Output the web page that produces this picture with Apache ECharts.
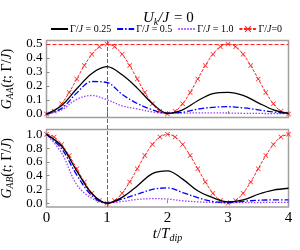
<!DOCTYPE html>
<html><head><meta charset="utf-8">
<script src="https://cdn.jsdelivr.net/npm/echarts@6/dist/echarts.min.js"></script>
<style>html,body{margin:0;padding:0;background:#fff}#c{width:300px;height:250px}</style>
</head><body><div id="c"></div>
<script>
var tCoarse = [0,0.25,0.5,0.75,1,1.25,1.5,1.75,2,2.25,2.5,2.75,3,3.25,3.5,3.75,4];
var tFine = [0,0.125,0.25,0.375,0.5,0.625,0.75,0.875,1,1.125,1.25,1.375,1.5,1.625,1.75,1.875,2,2.125,2.25,2.375,2.5,2.625,2.75,2.875,3,3.125,3.25,3.375,3.5,3.625,3.75,3.875,4];
var seriesNames = ['Γ/J = 0.25','Γ/J = 0.5','Γ/J = 1.0','Γ/J=0'];
// top panel G_AA
var gaaG025 = [0,0.06,0.18,0.29,0.338,0.28,0.185,0.075,0.005,0.03,0.095,0.145,0.155,0.133,0.08,0.03,0.005];
var gaaG05  = [0,0.04,0.15,0.232,0.225,0.14,0.075,0.03,0.006,0.013,0.035,0.048,0.052,0.044,0.03,0.014,0.005];
var gaaG1   = [0,0.03,0.105,0.132,0.102,0.058,0.036,0.015,0.006,0.006,0.008,0.008,0.007,0.005,0.004,0.003,0.002];
var gaaG0   = [0,0.019,0.073,0.154,0.25,0.346,0.427,0.481,0.5,0.481,0.427,0.346,0.25,0.154,0.073,0.019,0,0.019,0.073,0.154,0.25,0.346,0.427,0.481,0.5,0.481,0.427,0.346,0.25,0.154,0.073,0.019,0];
// bottom panel G_AB
var gabG025 = [1,0.83,0.47,0.14,0.0,0.085,0.25,0.43,0.47,0.35,0.18,0.08,0.02,0.048,0.13,0.19,0.217];
var gabG05  = [1,0.79,0.41,0.11,0.0,0.06,0.13,0.2,0.222,0.155,0.08,0.025,0.008,0.028,0.042,0.048,0.048];
var gabG1   = [1,0.73,0.27,0.07,0.005,0.025,0.055,0.066,0.06,0.035,0.02,0.01,0.006,0.008,0.01,0.012,0.012];
var gabG0   = [1,0.962,0.854,0.691,0.5,0.309,0.146,0.038,0,0.038,0.146,0.309,0.5,0.691,0.854,0.962,1,0.962,0.854,0.691,0.5,0.309,0.146,0.038,0,0.038,0.146,0.309,0.5,0.691,0.854,0.962,1];
var xTicks = [0,1,2,3,4];
var topTicks = [0,0.1,0.2,0.3,0.4,0.5];
var botTicks = [0,0.2,0.4,0.6,0.8,1.0];
var refLineY = 0.5, refLineX = 1;

var FF = 'Liberation Serif';
var colors = ['#000000','#0000ff','#a040ff','#ff2020'];
var styles = [
  {type:'solid', width:1.3},
  {type:[6,2,1.5,2], width:1.3},
  {type:[1.5,1.5], width:1.3},
  {type:[3,1.5], width:1}
];
var xSym = 'path://M1,0 L5,4 L9,0 L10,1 L6,5 L10,9 L9,10 L5,6 L1,10 L0,9 L4,5 L0,1 Z';
function pairs(ts, vs){ return ts.map(function(t,i){return [t, vs[i]];}); }
function mk(name, idx, ts, vs, gi){
  var s = {name:name, type:'line', xAxisIndex:gi, yAxisIndex:gi, data:pairs(ts,vs), smooth:0.35,
    lineStyle:{color:colors[idx], type:styles[idx].type, width:styles[idx].width},
    itemStyle:{color:colors[idx]}, animation:false, silent:true, z: 10-idx};
  if (idx===3){ s.symbol = xSym; s.symbolSize = 5; s.showSymbol = true; }
  else { s.symbol = 'none'; s.showSymbol = false; }
  return s;
}
function rich(fs, sfs){
  return {
    i:{fontFamily:FF, fontStyle:'italic', fontWeight:'normal', fontSize:fs, color:'#000', lineHeight:fs+3, verticalAlign:'middle'},
    n:{fontFamily:FF, fontWeight:'normal', fontSize:fs, color:'#000', lineHeight:fs+3, verticalAlign:'middle'},
    sub:{fontFamily:FF, fontStyle:'italic', fontWeight:'normal', fontSize:sfs, color:'#000', lineHeight:sfs, verticalAlign:'bottom'}
  };
}
var gridL = 46.5, gridW = 242;
var tickStyle = {inside:true, length:3, lineStyle:{color:'#888', width:1}};
var legendData = seriesNames.map(function(n, i){
  return i < 3 ? {name:n, itemStyle:{opacity:0}} : {name:n};
});
function yLabel(ticks){
  return {fontFamily:FF, fontSize:13, lineHeight:11, color:'#000', margin:4, interval:0, hideOverlap:false,
    customValues:ticks, showMinLabel:true, showMaxLabel:true, formatter:function(v){return v.toFixed(1);}};
}
var option = {
  backgroundColor:'#fff',
  title:{text:'{i|U}{sub|k}{i|/J} {n|= 0}', left:143, top:9, padding:0,
    textStyle:{fontWeight:'normal', rich:rich(15,10)}},
  legend:{data:legendData, left:50, top:24, itemWidth:17, itemHeight:8, itemGap:5, padding:0,
    formatter:function(n){ var p = n.split('/J'); return '{n|' + p[0] + '/}{i|J}{n|' + p[1] + '}'; },
    textStyle:{fontFamily:FF, fontSize:10, color:'#000', padding:[0,0,0,-3], rich:{
      n:{fontFamily:FF, fontSize:10, color:'#000'}, i:{fontFamily:FF, fontStyle:'italic', fontSize:10, color:'#000'}}}},
  grid:[
    {left:gridL, width:gridW, top:40.5, height:77, show:true, borderColor:'#a0a0a0', borderWidth:1.5, backgroundColor:'transparent', outerBoundsMode:'none', containLabel:false},
    {left:gridL, width:gridW, top:129.5, height:77.5, show:true, borderColor:'#a0a0a0', borderWidth:1.5, backgroundColor:'transparent', outerBoundsMode:'none', containLabel:false},
    {left:gridL, width:gridW, top:40.5, height:166.5, show:false, outerBoundsMode:'none', containLabel:false}
  ],
  xAxis:[
    {gridIndex:0, type:'value', min:0, max:4, interval:1, axisLine:{show:false}, axisTick:tickStyle, axisLabel:{show:false}, splitLine:{show:false}},
    {gridIndex:1, type:'value', min:0, max:4, interval:1, axisLine:{show:false}, axisTick:tickStyle,
      axisLabel:{fontFamily:FF, fontSize:15, color:'#000', margin:4, customValues:xTicks},
      splitLine:{show:false},
      name:'{i|t}{n|/}{i|T}{sub|dip}', nameLocation:'middle', nameGap:17, nameTextStyle:{rich:rich(15,10)}},
    {gridIndex:2, type:'value', min:0, max:4, show:false}
  ],
  yAxis:[
    {gridIndex:0, type:'value', min:-0.025, max:0.525, axisLine:{show:false},
      axisTick:Object.assign({customValues:topTicks}, tickStyle),
      axisLabel:yLabel(topTicks), splitLine:{show:false},
      name:'{i|G}{sub|AA}{n|(}{i|t}{n|; Γ/}{i|J}{n|)}', nameLocation:'middle', nameRotate:90, nameGap:23, nameTextStyle:{rich:rich(14,9.5)}},
    {gridIndex:1, type:'value', min:-0.055, max:1.07, axisLine:{show:false},
      axisTick:Object.assign({customValues:botTicks}, tickStyle),
      axisLabel:yLabel(botTicks), splitLine:{show:false},
      name:'{i|G}{sub|AB}{n|(}{i|t}{n|; Γ/}{i|J}{n|)}', nameLocation:'middle', nameRotate:90, nameGap:23, nameTextStyle:{rich:rich(14,9.5)}},
    {gridIndex:2, type:'value', min:0, max:1, show:false}
  ],
  series:[]
};
var topData = [gaaG025, gaaG05, gaaG1];
var botData = [gabG025, gabG05, gabG1];
for (var k=0;k<3;k++){
  option.series.push(mk(seriesNames[k], k, tCoarse, topData[k], 0));
  option.series.push(mk(seriesNames[k], k, tCoarse, botData[k], 1));
}
var rTop = mk(seriesNames[3], 3, tFine, gaaG0, 0);
rTop.markLine = {symbol:'none', silent:true, animation:false, label:{show:false},
  lineStyle:{color:'#ff2020', type:[4,2], width:1}, data:[{yAxis:refLineY}]};
option.series.push(rTop);
option.series.push(mk(seriesNames[3], 3, tFine, gabG0, 1));
option.series.push({type:'line', xAxisIndex:2, yAxisIndex:2, data:[], silent:true,
  markLine:{symbol:'none', silent:true, animation:false, label:{show:false},
    lineStyle:{color:'#ff2020', type:[4,2], width:1}, data:[{xAxis:refLineX}]}});
var chart = echarts.init(document.getElementById('c'), null, {renderer:'canvas'});
chart.setOption(option);
</script></body></html>
